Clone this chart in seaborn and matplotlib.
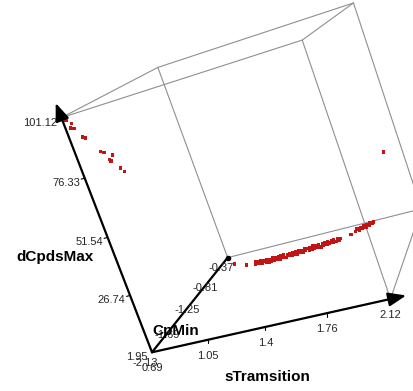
import numpy as np
import pandas as pd
import matplotlib
matplotlib.use("Agg")
import matplotlib.pyplot as plt
import seaborn as sns

# ---- data -------------------------------------------------------------
# branch that rises to the top of dCpdsMax at low sTramsition
s_high = [0.69, 0.70, 0.71, 0.73, 0.72, 0.73, 0.77, 0.78, 0.84, 0.85,
          0.86, 0.90, 0.87, 0.88, 0.92, 0.93]
cp_high = [-2.13, -2.12, -2.13, -2.12, -2.13, -2.11, -2.13, -2.12, -2.13, -2.12,
           -2.13, -2.13, -2.12, -2.13, -2.13, -2.12]
d_high = [101.1, 100.4, 99.6, 97.9, 96.3, 95.6, 91.7, 91.0, 84.3, 83.6,
          83.5, 81.9, 80.4, 79.8, 76.2, 74.4]

# long low-dCpdsMax branch along the CpMin side
s_low = [0.81, 0.93,
         1.00, 1.012, 1.018, 1.03, 1.041, 1.047, 1.06, 1.068, 1.079, 1.09,
         1.097, 1.108, 1.121, 1.126, 1.139, 1.15, 1.157, 1.168, 1.18, 1.186,
         1.197, 1.21, 1.216, 1.228, 1.24, 1.247, 1.256, 1.27, 1.277, 1.289,
         1.30, 1.306, 1.318, 1.33, 1.337, 1.349, 1.36, 1.366, 1.378, 1.39,
         1.396, 1.409, 1.42, 1.426, 1.437, 1.45, 1.457, 1.468, 1.48, 1.486,
         1.497, 1.51, 1.516, 1.527, 1.54, 1.548, 1.557, 1.57, 1.579, 1.59, 1.60,
         1.66,
         1.69, 1.70, 1.712, 1.72, 1.731, 1.74, 1.752, 1.76, 1.772, 1.78,
         1.791, 1.80]
cp_low = [-0.61, -0.72,
          -0.742, -0.751, -0.749, -0.758, -0.764, -0.757, -0.768, -0.771, -0.766, -0.776,
          -0.771, -0.779, -0.773, -0.780, -0.771, -0.777, -0.769, -0.775, -0.767, -0.774,
          -0.764, -0.770, -0.761, -0.767, -0.757, -0.763, -0.753, -0.759, -0.749, -0.755,
          -0.744, -0.751, -0.742, -0.748, -0.737, -0.744, -0.734, -0.741, -0.730, -0.736,
          -0.727, -0.733, -0.722, -0.729, -0.717, -0.724, -0.712, -0.719, -0.705, -0.711,
          -0.699, -0.705, -0.693, -0.698, -0.686, -0.691, -0.680, -0.684, -0.673, -0.676, -0.665,
          -0.602,
          -0.572, -0.556, -0.548, -0.532, -0.527, -0.514, -0.506, -0.491, -0.484, -0.468,
          -0.462, -0.449]
d_low = [2.1, 2.3,
         2.0, 3.3, 2.2, 3.1, 2.4, 3.4, 2.1, 3.2, 2.5, 2.2,
         3.3, 2.0, 3.1, 2.3, 3.4, 2.2, 3.0, 2.4, 3.3, 2.1,
         3.2, 2.3, 3.4, 2.0, 3.1, 2.5, 3.3, 2.2, 3.0, 2.4,
         3.2, 2.1, 3.4, 2.3, 3.1, 2.2, 3.3, 2.5, 3.0, 2.1,
         3.2, 2.4, 3.4, 2.2, 3.1, 2.3, 3.3, 2.0, 3.2, 2.4,
         3.0, 2.2, 3.4, 2.5, 3.1, 2.3, 3.3, 2.1, 3.0, 2.4, 2.6,
         2.2,
         2.6, 3.4, 2.3, 3.1, 2.5, 3.3, 2.2, 3.0, 2.4, 3.2,
         2.6, 2.8]

# lone point on the far side
s_lone, cp_lone, d_lone = [2.00], [-0.37], [32.3]

x_ticks = ["0.69", "1.05", "1.4", "1.76", "2.12"]
y_ticks = ["-2.13", "-1.69", "-1.25", "-0.81", "-0.37"]
z_ticks = ["1.95", "26.74", "51.54", "76.33", "101.12"]

x_title, y_title, z_title = "sTramsition", "CpMin", "dCpdsMax"

# ---- view ---------------------------------------------------------------
x_lim = (float(x_ticks[0]), float(x_ticks[-1]))
y_lim = (float(y_ticks[0]), float(y_ticks[-1]))
z_lim = (float(z_ticks[0]), float(z_ticks[-1]))

# perspective camera for the unit bounding cube, output in pixels
CAMERA = np.array([
    [206.46, 131.10, -93.103, 152.01],
    [-77.806, -31.891, -239.26, 352.27],
    [-0.081956, 0.24359, -0.039976, 1.0],
])


def to_unit(x, y, z):
    x = (np.asarray(x, float) - x_lim[0]) / (x_lim[1] - x_lim[0])
    y = (np.asarray(y, float) - y_lim[0]) / (y_lim[1] - y_lim[0])
    z = (np.asarray(z, float) - z_lim[0]) / (z_lim[1] - z_lim[0])
    return x, y, z


def project(u, v, w):
    u, v, w = np.broadcast_arrays(np.atleast_1d(u), np.atleast_1d(v), np.atleast_1d(w))
    h = CAMERA @ np.vstack([u, v, w, np.ones_like(u, dtype=float)])
    return h[0] / h[2], h[1] / h[2]


W, H = 413, 391
sns.set_theme(style="white")
plt.rcParams["font.family"] = ["Liberation Sans", "DejaVu Sans"]

fig = plt.figure(figsize=(W / 100, H / 100), dpi=100)
ax = fig.add_axes([0, 0, 1, 1])
ax.set_xlim(0, W)
ax.set_ylim(H, 0)
ax.set_axis_off()

# bounding box
corners = [(i, j, k) for i in (0, 1) for j in (0, 1) for k in (0, 1)]
for a in corners:
    for b in corners:
        if a < b and sum(abs(p - q) for p, q in zip(a, b)) == 1:
            px, py = project(*np.array([a, b], float).T)
            ax.plot(px, py, color="#8f8f8f", lw=0.8, zorder=1)

# axes lines from the origin corner
ox, oy = project(0, 0, 0)
for end, head in (((1.06, 0, 0), True), ((0, 1, 0), False), ((0, 0, 1.06), True)):
    ex, ey = project(*end)
    if head:
        ax.annotate("", xy=(ex[0], ey[0]), xytext=(ox[0], oy[0]),
                    arrowprops=dict(arrowstyle="-|>,head_length=0.9,head_width=0.35",
                                    lw=1.6, color="black", shrinkA=0, shrinkB=0),
                    zorder=4)
    else:
        ax.plot([ox[0], ex[0]], [oy[0], ey[0]], color="black", lw=1.6, zorder=4)
        ax.plot(ex, ey, "o", color="black", ms=3, zorder=4)

tick_style = dict(fontsize=8, color="#262626", zorder=5)

# sTramsition ticks
for lab in x_ticks:
    u, _, _ = to_unit(float(lab), y_lim[0], z_lim[0])
    tx, ty = project(u, 0, 0)
    if lab != x_ticks[0]:
        ax.plot([tx[0], tx[0]], [ty[0], ty[0] + 3.5], color="black", lw=0.8, zorder=4)
    ax.text(tx[0], ty[0] + 16, lab, ha="center", va="center", **tick_style)

# CpMin ticks
for lab in y_ticks:
    _, v, _ = to_unit(x_lim[0], float(lab), z_lim[0])
    tx, ty = project(0, v, 0)
    ax.text(tx[0] - 6.5, ty[0] + 10.5, lab, ha="center", va="center", **tick_style)

# dCpdsMax ticks
for lab in z_ticks:
    _, _, w = to_unit(x_lim[0], y_lim[0], float(lab))
    tx, ty = project(0, 0, w)
    if lab not in (z_ticks[0], z_ticks[-1]):
        ax.plot([tx[0] - 3.5, tx[0]], [ty[0] + 1, ty[0]], color="black", lw=0.8, zorder=4)
    ax.text(tx[0] - 4.5, ty[0] + 5, lab, ha="right", va="center", **tick_style)

title_style = dict(fontsize=11, fontweight="bold", color="black", ha="center",
                   va="center", zorder=6)
ax.text(267, 377, x_title, **title_style)
ax.text(55, 257, z_title, **title_style)
ax.text(176, 331, y_title, **title_style)

# points
pts = pd.DataFrame({
    "sTramsition": s_high + s_low + s_lone,
    "CpMin": cp_high + cp_low + cp_lone,
    "dCpdsMax": d_high + d_low + d_lone,
})
u, v, w = to_unit(pts["sTramsition"], pts["CpMin"], pts["dCpdsMax"])
pts["sx"], pts["sy"] = project(u, v, w)
sns.scatterplot(data=pts, x="sx", y="sy", marker="s", s=6, color="#c11414",
                edgecolor="none", linewidth=0, ax=ax, zorder=3, legend=False)
ax.set_xlim(0, W)
ax.set_ylim(H, 0)

fig.savefig("out.png", dpi=100)
